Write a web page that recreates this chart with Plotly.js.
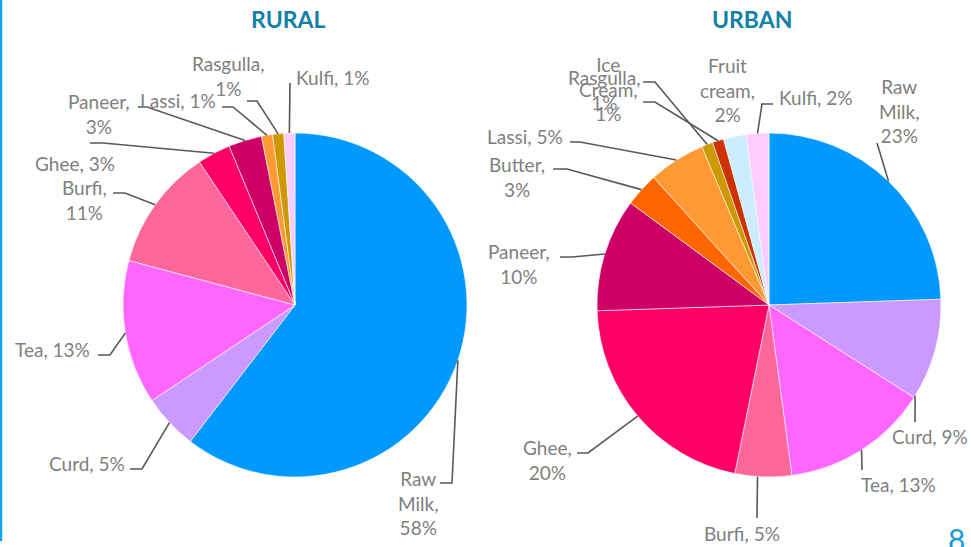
<!DOCTYPE html>
<html><head><meta charset="utf-8">
<script src="https://cdn.plot.ly/plotly-3.0.1.min.js"></script>
<style>html,body{margin:0;padding:0;background:#fff}#chart{width:971px;height:547px}</style>
</head><body><div id="chart"></div>
<script>
// ---- data ----
const chartTitles = ['RURAL', 'URBAN'];
const ruralLabels = ['Raw Milk', 'Curd', 'Tea', 'Burfi', 'Ghee', 'Paneer', 'Lassi', 'Rasgulla', 'Kulfi'];
const ruralValues = [58, 5, 13, 11, 3, 3, 1, 1, 1];
const urbanLabels = ['Raw Milk', 'Curd', 'Tea', 'Burfi', 'Ghee', 'Paneer', 'Butter', 'Lassi', 'Rasgulla', 'Ice Cream', 'Fruit cream', 'Kulfi'];
const urbanValues = [23, 9, 13, 5, 20, 10, 3, 5, 1, 1, 2, 2];
const pageNumber = '8';

// ---- styles / layout ----
const colorOf = {
  'Raw Milk': '#0099FF', 'Curd': '#CC99FF', 'Tea': '#FF66FF', 'Burfi': '#FF6699',
  'Ghee': '#FF0066', 'Paneer': '#CC0066', 'Butter': '#FF6600', 'Lassi': '#FF9933',
  'Rasgulla': '#CC9900', 'Ice Cream': '#CC3300', 'Fruit cream': '#CCECFF', 'Kulfi': '#FFCCFF'
};
const W = 971, H = 547;
const FONT = 'Lato, "Open Sans", sans-serif';
const pieGeom = [{cx: 295, cy: 305, r: 172}, {cx: 769, cy: 305, r: 172}];
const titlePos = [[288, 19], [752, 19]];

// label placement (pixels): center, wrap mode, leader start/elbow points, anchor fraction in slice
const ruralLabelPos = {
  'Raw Milk': {c: [418, 503], wrap: 'words', lead: [[440, 483], [452, 483]]},
  'Curd':     {c: [87, 463],  wrap: 'one',   lead: [[130, 469], [142, 469]]},
  'Tea':      {c: [52, 349],  wrap: 'one',   lead: [[98, 355], [110, 355]]},
  'Burfi':    {c: [84, 200],  wrap: 'name',  lead: [[113, 193], [125, 193]]},
  'Ghee':     {c: [75, 163],  wrap: 'one',   lead: [[90, 143], [103, 143]]},
  'Paneer':   {c: [99, 114],  wrap: 'name',  lead: [[138, 107], [147, 107]]},
  'Lassi':    {c: [178, 100], wrap: 'one',   lead: [[222, 107], [233, 107]]},
  'Rasgulla': {c: [228, 76],  wrap: 'name',  lead: [[247, 101], [257, 101]]},
  'Kulfi':    {c: [332, 77],  wrap: 'one',   lead: [[290, 83]]}
};
const urbanLabelPos = {
  'Raw Milk':    {c: [899, 111], wrap: 'words', lead: [[877, 143]]},
  'Curd':        {c: [930, 436], wrap: 'one',   lead: [[915, 422]], frac: 0.98},
  'Tea':         {c: [898, 484], wrap: 'one',   lead: [[862, 470]]},
  'Burfi':       {c: [742, 533], wrap: 'one',   lead: [[757, 518]], frac: 0.6},
  'Ghee':        {c: [547, 460], wrap: 'name',  lead: [[577, 453], [588, 453]]},
  'Paneer':      {c: [519, 264], wrap: 'name',  lead: [[560, 257], [572, 257]]},
  'Butter':      {c: [517, 177], wrap: 'name',  lead: [[553, 169], [567, 169]]},
  'Lassi':       {c: [525, 136], wrap: 'one',   lead: [[570, 142], [580, 142]]},
  'Rasgulla':    {c: [604, 90],  wrap: 'name',  lead: [[643, 82], [655, 82]]},
  'Ice Cream':   {c: [608, 89],  wrap: 'words', lead: [[643, 102], [655, 102]]},
  'Fruit cream': {c: [727, 90],  wrap: 'words', lead: null},
  'Kulfi':       {c: [815, 97],  wrap: 'one',   lead: [[773, 104], [762, 104]]}
};

const px = x => x / W;
const py = y => 1 - y / H;

function labelText(name, val, wrap) {
  if (wrap === 'one') return name + ', ' + val + '%';
  if (wrap === 'name') return name + ',<br>' + val + '%';
  return name.split(' ').join('<br>') + ',<br>' + val + '%';
}

function tipPoint(values, i, frac, g) {
  const total = values.reduce((a, b) => a + b, 0);
  let cum = 0;
  for (let k = 0; k < i; k++) cum += values[k];
  const th = (cum + frac * values[i]) / total * 2 * Math.PI;
  return [g.cx + g.r * Math.sin(th), g.cy - g.r * Math.cos(th)];
}

const sets = [
  {labels: ruralLabels, values: ruralValues, pos: ruralLabelPos},
  {labels: urbanLabels, values: urbanValues, pos: urbanLabelPos}
];

const traces = [], annotations = [], shapes = [];
sets.forEach((s, k) => {
  const g = pieGeom[k];
  traces.push({
    type: 'pie',
    labels: s.labels,
    values: s.values,
    sort: false,
    direction: 'clockwise',
    rotation: 0,
    textinfo: 'none',
    hoverinfo: 'label+value',
    marker: {colors: s.labels.map(l => colorOf[l]), line: {color: '#ffffff', width: 0.6}},
    domain: {x: [px(g.cx - g.r), px(g.cx + g.r)], y: [py(g.cy + g.r), py(g.cy - g.r)]},
    showlegend: false
  });
  annotations.push({
    xref: 'paper', yref: 'paper', x: px(titlePos[k][0]), y: py(titlePos[k][1]),
    xanchor: 'center', yanchor: 'middle', showarrow: false,
    text: '<b>' + chartTitles[k] + '</b>',
    font: {family: FONT, size: 23, color: '#1380A6'}
  });
  s.labels.forEach((name, i) => {
    const p = s.pos[name];
    annotations.push({
      xref: 'paper', yref: 'paper', x: px(p.c[0]), y: py(p.c[1]),
      xanchor: 'center', yanchor: 'middle', showarrow: false, align: 'center',
      text: labelText(name, s.values[i], p.wrap),
      font: {family: FONT, size: 19, color: '#808080'}
    });
    if (p.lead) {
      const tip = tipPoint(s.values, i, p.frac === undefined ? 0.5 : p.frac, g);
      const pts = p.lead.concat([tip]);
      shapes.push({
        type: 'path', xref: 'paper', yref: 'paper',
        path: 'M ' + pts.map(q => px(q[0]) + ',' + py(q[1])).join(' L '),
        line: {color: '#595959', width: 1.6}
      });
    }
  });
});

// left accent bar and page number
shapes.push({type: 'rect', xref: 'paper', yref: 'paper', x0: 0, x1: px(2.2), y0: py(541), y1: 1,
  fillcolor: '#00A6E8', line: {width: 0}});
annotations.push({xref: 'paper', yref: 'paper', x: px(956), y: py(519), xanchor: 'center', yanchor: 'top',
  showarrow: false, text: pageNumber, font: {family: FONT, size: 30, color: '#1A9BD7'}});

const layout = {
  width: W, height: H,
  margin: {l: 0, r: 0, t: 0, b: 0},
  paper_bgcolor: '#ffffff',
  showlegend: false,
  annotations: annotations,
  shapes: shapes
};
Plotly.newPlot('chart', traces, layout, {displayModeBar: false, staticPlot: true});
</script>
</body></html>
